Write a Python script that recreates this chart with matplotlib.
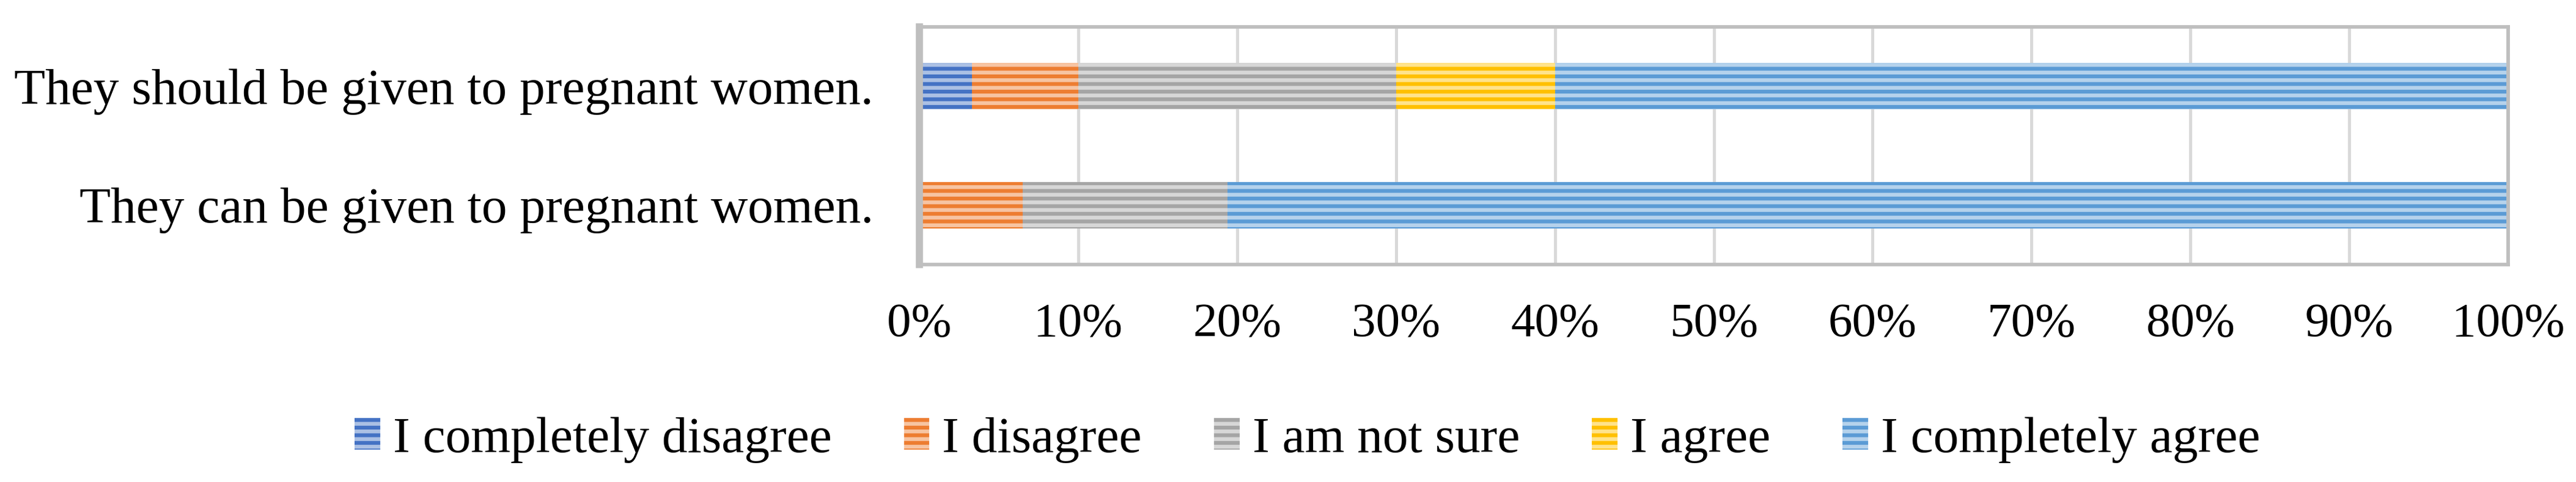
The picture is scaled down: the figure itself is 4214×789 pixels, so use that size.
import matplotlib
matplotlib.use("Agg")
import matplotlib.pyplot as plt
import numpy as np
from matplotlib.colors import to_rgb

categories = ["They can be given to pregnant women.",
              "They should be given to pregnant women."]
series_names = ["I completely disagree", "I disagree", "I am not sure",
                "I agree", "I completely agree"]
completely_disagree = [0.0, 3.3]
disagree = [6.5, 6.7]
not_sure = [12.9, 20.0]
agree = [0.0, 10.0]
completely_agree = [80.6, 60.0]
xticks = [0, 10, 20, 30, 40, 50, 60, 70, 80, 90, 100]
xtick_labels = [f"{v}%" for v in xticks]

colors = ["#4472C4", "#ED7D31", "#A5A5A5", "#FFC000", "#5B9BD5"]


def lighten(c, f=0.55):
    r, g, b = to_rgb(c)
    return (r + (1 - r) * f, g + (1 - g) * f, b + (1 - b) * f)


plt.rcParams['font.family'] = ['Liberation Serif', 'DejaVu Serif']
plt.rcParams['hatch.linewidth'] = 1.5

W, H, DPI = 4214, 789, 300
fig = plt.figure(figsize=(W / DPI, H / DPI), dpi=DPI)
ax = fig.add_axes([1504 / W, 1 - 433 / H, (4103 - 1504) / W, (433 - 44) / H])

FS = 20
FS_TICK = 19
y = np.arange(len(categories))
left = np.zeros(len(categories))
series = [completely_disagree, disagree, not_sure, agree, completely_agree]
for name, vals, c in zip(series_names, series, colors):
    ax.barh(y, vals, left=left, height=0.39, color=c, edgecolor=lighten(c),
            linewidth=0, hatch="----", label=name, zorder=2)
    left = left + np.array(vals)

ax.set_xlim(0, 100)
ax.set_ylim(-0.5, 1.5)
ax.set_xticks(xticks)
ax.set_xticklabels(xtick_labels, fontsize=FS_TICK)
ax.set_yticks(y)
ax.set_yticklabels(categories, fontsize=FS)
ax.tick_params(axis='x', length=0, pad=15)
ax.tick_params(axis='y', length=0, pad=18)
ax.grid(axis='x', color="#D9D9D9", linewidth=1.2, zorder=0)
ax.set_axisbelow(True)
for s in ["top", "right", "bottom"]:
    ax.spines[s].set_color("#BFBFBF")
    ax.spines[s].set_linewidth(1.4)
ax.spines["left"].set_color("#BFBFBF")
ax.spines["left"].set_linewidth(2.8)

fig.legend(loc="center", bbox_to_anchor=(0.5075, 1 - 720 / H), ncol=5,
           frameon=False, fontsize=FS, handlelength=0.5, handleheight=0.58,
           handletextpad=0.25, columnspacing=1.42, borderpad=0)

fig.savefig("out.png", dpi=DPI)
